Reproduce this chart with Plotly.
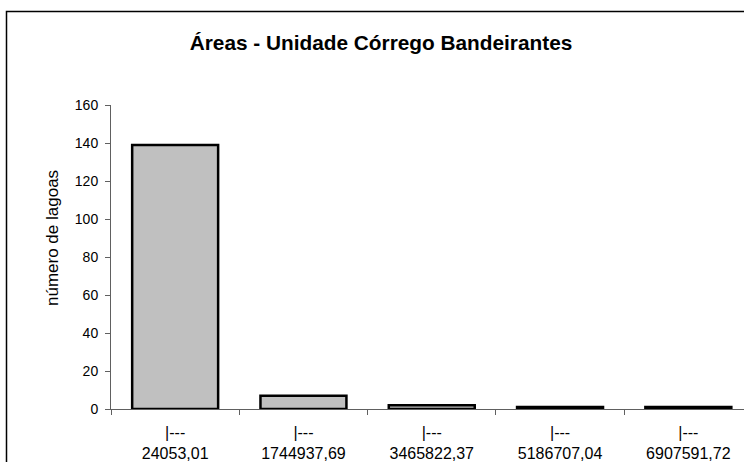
import plotly.graph_objects as go

# Histogram of pond areas: class lower bounds and number of ponds per class
class_bounds = ["24053,01", "1744937,69", "3465822,37", "5186707,04", "6907591,72"]
pond_counts = [139, 7, 2, 1, 1]
y_ticks = [0, 20, 40, 60, 80, 100, 120, 140, 160]

W, H = 744, 462
L, R, T, B = 111, 0, 105, 53
plot_w = W - L - R
plot_h = H - T - B
cat_px = 128.3  # pixel width of one category

labels = ["|---<br>" + b for b in class_bounds]
font = "Liberation Sans, Arial, sans-serif"

fig = go.Figure(
    go.Bar(
        x=labels,
        y=pond_counts,
        width=0.67,
        marker=dict(color="#c0c0c0", line=dict(color="black", width=2.5)),
        hoverinfo="x+y",
    )
)

def px_to_paper_x(px):
    return (px - L) / plot_w

def px_to_paper_y(py):
    return (H - B - py) / plot_h

# Outer chart frame (runs off the right and bottom edges)
fig.add_shape(
    type="rect", xref="paper", yref="paper",
    x0=px_to_paper_x(6.5), x1=px_to_paper_x(770),
    y0=px_to_paper_y(480), y1=px_to_paper_y(11.5),
    line=dict(color="black", width=1.5), fillcolor="rgba(0,0,0,0)",
    layer="below",
)

# Vertical axis title
fig.add_annotation(
    text="número de lagoas", xref="paper", yref="paper",
    x=px_to_paper_x(52), y=px_to_paper_y(238),
    xanchor="center", yanchor="middle", textangle=-90, showarrow=False,
    font=dict(family=font, size=17, color="black"),
)

fig.update_layout(
    width=W, height=H,
    margin=dict(l=L, r=R, t=T, b=B, pad=0),
    paper_bgcolor="white", plot_bgcolor="white",
    showlegend=False,
    font=dict(family=font, color="black", size=14),
    title=dict(
        text="<b>Áreas - Unidade Córrego Bandeirantes</b>",
        x=381 / W, xref="container", xanchor="center",
        y=1 - 43 / H, yref="container", yanchor="middle",
        font=dict(family=font, size=20.8, color="black"),
    ),
    xaxis=dict(
        type="category",
        range=[-0.5, -0.5 + plot_w / cat_px],
        showline=True, linecolor="#606060", linewidth=1,
        ticks="outside", tickson="boundaries", ticklen=5,
        tickcolor="#606060", tickwidth=1,
        tickfont=dict(family=font, size=16, color="black"),
        ticklabelstandoff=9,
        showgrid=False, zeroline=False,
    ),
    yaxis=dict(
        range=[0, 160],
        tickvals=y_ticks,
        showline=True, linecolor="#606060", linewidth=1,
        ticks="outside", ticklen=5, tickcolor="#606060", tickwidth=1,
        tickfont=dict(family=font, size=14, color="black"),
        ticklabelstandoff=4,
        showgrid=False, zeroline=False,
    ),
)

fig.write_html("out.html")
